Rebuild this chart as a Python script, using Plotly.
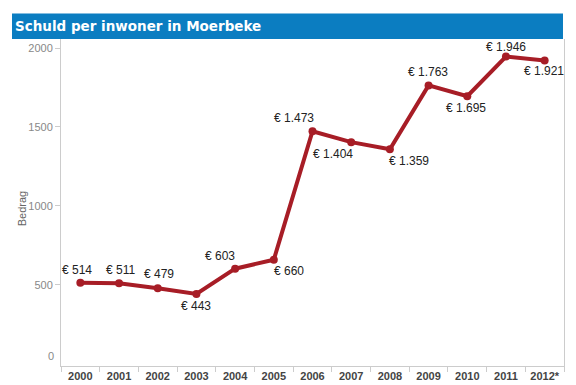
import plotly.graph_objects as go

years = ["2000", "2001", "2002", "2003", "2004", "2005", "2006",
         "2007", "2008", "2009", "2010", "2011", "2012*"]
schuld = [514, 511, 479, 443, 603, 660, 1473, 1404, 1359, 1763, 1695, 1946, 1921]
y_ticks = [0, 500, 1000, 1500, 2000]

# label offsets in pixels (dx right, dy down) - style only
label_dx = [-3, 1, 1, 0, -15, 15, -19, -18, 19, -1, -1, 0, -1]
label_dy = [-13, -13, -14, 12, -13, 11, -13, 12, 12, -13, 12, -10, 11]


def euro(v):
    return "€ " + f"{v:,}".replace(",", ".")


xi = list(range(len(years)))
bounds = [i - 0.5 for i in range(len(years) + 1)]

fig = go.Figure()
fig.add_trace(go.Scatter(
    x=xi, y=schuld, mode="lines+markers",
    line=dict(color="#A71D26", width=4),
    marker=dict(color="#A71D26", size=8),
    hoverinfo="skip", showlegend=False,
))

annotations = []
for i, v, dx, dy in zip(xi, schuld, label_dx, label_dy):
    annotations.append(dict(
        x=i, y=v, xref="x", yref="y", text=euro(v), showarrow=False,
        xshift=dx, yshift=-dy,
        font=dict(family="Liberation Sans, Arial", size=12, color="#222222"),
    ))

# title bar
annotations.append(dict(
    x=-0.0955, y=1.039, xref="paper", yref="paper", xanchor="left", yanchor="middle",
    text="<b>Schuld per inwoner in Moerbeke</b>", showarrow=False,
    font=dict(family="DejaVu Sans", size=13.5, color="#ffffff"),
))

# y-axis title
annotations.append(dict(
    x=-0.077, y=0.48, xref="paper", yref="paper", xanchor="center", yanchor="middle",
    text="Bedrag", textangle=-90, showarrow=False,
    font=dict(family="Liberation Sans, Arial", size=11, color="#666666"),
))

# zero tick label sits slightly above the axis in the reference
annotations.append(dict(
    x=-0.01, y=y_ticks[0], xref="paper", yref="y", xanchor="right", yanchor="middle",
    yshift=8, text=str(y_ticks[0]), showarrow=False,
    font=dict(family="Liberation Sans, Arial", size=11, color="#888888"),
))

fig.update_layout(
    width=576, height=385,
    margin=dict(l=61, r=12, t=39, b=19),
    paper_bgcolor="#ffffff", plot_bgcolor="#ffffff",
    annotations=annotations,
    shapes=[dict(type="rect", xref="paper", yref="paper",
                 x0=-0.0974, x1=0.998, y0=1.0, y1=1.078,
                 fillcolor="#0B7DC1", line=dict(width=0), layer="above")],
    xaxis=dict(
        range=[-0.5, len(years) - 0.5], showgrid=False, zeroline=False,
        showline=True, linecolor="#cccccc", automargin=False,
        tickvals=xi, ticktext=years, ticks="",
        minor=dict(tickvals=bounds, ticks="outside", ticklen=5, tickcolor="#cccccc", showgrid=False),
        tickfont=dict(family="Liberation Sans, Arial", size=11, color="#444444", weight="bold"),
        fixedrange=True,
    ),
    yaxis=dict(
        range=[-13, 2057], showgrid=False, zeroline=False, showline=True,
        linecolor="#cccccc", mirror=True, ticks="outside", ticklen=5, tickcolor="#cccccc",
        automargin=False,
        tickvals=y_ticks[1:], ticktext=[str(t) for t in y_ticks[1:]],
        tickfont=dict(family="Liberation Sans, Arial", size=11, color="#888888"),
    ),
)

fig.write_html(
    "out.html",
    config={"displayModeBar": False},
    post_script="document.body.style.margin='0';document.body.style.padding='0';document.body.style.overflow='hidden';",
)
